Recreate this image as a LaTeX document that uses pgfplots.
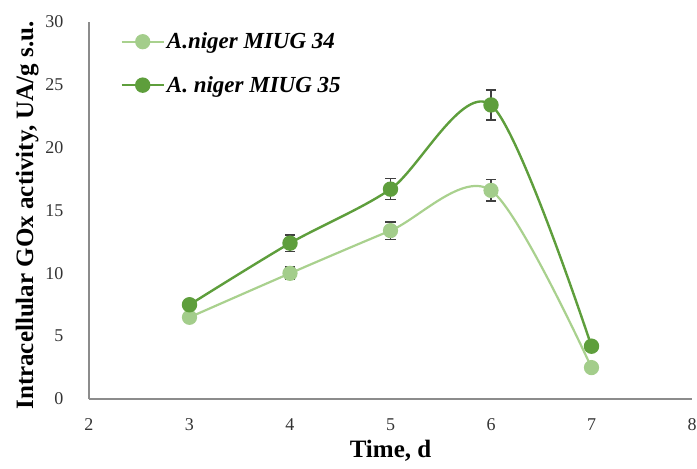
\documentclass[border=0pt]{standalone}
\usepackage{pgfplots}
\pgfplotsset{compat=1.18}
\usepackage{fontspec}
\setmainfont{Liberation Serif}
\definecolor{lightg}{HTML}{A3CD8B}
\definecolor{lightgl}{HTML}{A9D18E}
\definecolor{darkg}{HTML}{5E9E3C}
\definecolor{axgray}{HTML}{8C8C8C}
\begin{document}
\begin{tikzpicture}[x=1bp,y=1bp]
\path[use as bounding box] (-89bp,-70bp) rectangle (608bp,399bp);
\begin{axis}[
  scale only axis,
  width=603bp, height=377bp,
  at={(0,0)}, anchor=south west,
  xmin=2, xmax=8, ymin=0, ymax=30,
  xtick={2,3,4,5,6,7,8},
  ytick={0,5,10,15,20,25,30},
  axis x line*=bottom, axis y line*=left,
  axis line style={axgray, line width=1.3bp, -},
  major tick length=0pt,
  tick style={draw=none},
  /pgf/number format/assume math mode=true,
  ticklabel style={font=\fontsize{18bp}{20bp}\selectfont, text=black!80},
  xticklabel style={yshift=-16bp},
  yticklabel style={xshift=-22bp},
  xlabel={\textbf{Time, d}},
  ylabel={\textbf{Intracellular GOx activity, UA/g s.u.}},
  label style={font=\fontsize{25bp}{27bp}\selectfont},
  xlabel style={yshift=-3bp},
  ylabel style={yshift=0bp, xshift=-5bp},
  legend style={draw=none, fill=none, at={(0.047,0.982)}, anchor=north west,
    font=\fontsize{23bp}{25bp}\selectfont\bfseries\itshape,
    row sep=22bp, cells={anchor=west}},
  legend image code/.code={
    \draw[#1, mark=none] (0bp,0bp) -- (42bp,0bp);
    \draw[#1, only marks] plot coordinates {(21bp,0bp)};
  },
  clip=false,
]
\addplot[lightgl, line width=2.2bp, smooth, tension=0.5,
  mark=*, mark size=6.5bp, mark options={fill=lightg, draw=lightg},
  error bars/.cd, y dir=both, y explicit,
  error bar style={black!75, line width=1.3bp},
  error mark options={black!75, line width=1.3bp, mark size=5bp, rotate=90}]
  coordinates {
  (3,6.5) +- (0,0.3)
  (4,10.0) +- (0,0.5)
  (5,13.4) +- (0,0.68)
  (6,16.6) +- (0,0.85)
  (7,2.5) +- (0,0.2)
  };
\addlegendentry{A.niger MIUG 34}
\addplot[darkg, line width=2.4bp, smooth, tension=0.5,
  mark=*, mark size=6.5bp, mark options={fill=darkg, draw=darkg},
  error bars/.cd, y dir=both, y explicit,
  error bar style={black!75, line width=1.3bp},
  error mark options={black!75, line width=1.3bp, mark size=5bp, rotate=90}]
  coordinates {
  (3,7.5) +- (0,0.3)
  (4,12.4) +- (0,0.64)
  (5,16.7) +- (0,0.85)
  (6,23.4) +- (0,1.2)
  (7,4.2) +- (0,0.2)
  };
\addlegendentry{A. niger MIUG 35}
\end{axis}
\end{tikzpicture}
\end{document}
